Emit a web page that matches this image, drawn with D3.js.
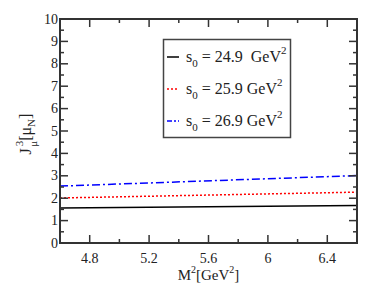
<!DOCTYPE html>
<html>
<head>
<meta charset="utf-8">
<script src="https://cdn.jsdelivr.net/npm/d3@7"></script>
<style>
  body { margin: 0; background: #fff; }
</style>
</head>
<body>
<div id="chart"></div>
<script>
// data
var xs = [4.6, 6.6];
var s0Labels = ["24.9", "25.9", "26.9"];
var curveBlack = [1.56, 1.67];
var curveRed = [2.01, 2.27];
var curveBlue = [2.54, 3.01];
var xTicks = [4.8, 5.2, 5.6, 6, 6.4];
var yTicks = [0, 1, 2, 3, 4, 5, 6, 7, 8, 9, 10];

var width = 374, height = 289;
var margin = {left: 60, right: 17, top: 19, bottom: 46};
var serif = "'Liberation Serif', 'Times New Roman', 'DejaVu Serif', serif";

var x = d3.scaleLinear().domain([4.6, 6.6]).range([margin.left, width - margin.right]);
var y = d3.scaleLinear().domain([0, 10]).range([height - margin.bottom, margin.top]);

var svg = d3.select("#chart").append("svg")
    .attr("width", width)
    .attr("height", height)
    .attr("font-family", serif);

var series = [
    {vals: curveBlack, color: "#000", dash: null, lab: s0Labels[0], gap: "\u00a0\u00a0"},
    {vals: curveRed, color: "#f00", dash: "2,2", lab: s0Labels[1], gap: "\u00a0"},
    {vals: curveBlue, color: "#00f", dash: "8,3,2,3", lab: s0Labels[2], gap: "\u00a0"}
];

var line = d3.line()
    .x(function(d, i) { return x(xs[i]); })
    .y(function(d) { return y(d); });

series.forEach(function(s) {
    svg.append("path")
        .attr("d", line(s.vals))
        .attr("fill", "none")
        .attr("stroke", s.color)
        .attr("stroke-width", 1.5)
        .attr("stroke-dasharray", s.dash);
});

// ticks, inward on all four sides
var minorX = d3.range(4.6, 6.61, 0.2);
var minorY = d3.range(0, 10.01, 0.5);
var gt = svg.append("g").attr("stroke", "#333").attr("stroke-width", 1.5);

minorX.forEach(function(v) {
    var major = xTicks.some(function(t) { return Math.abs(t - v) < 1e-6; });
    var len = major ? 8 : 4;
    gt.append("line").attr("x1", x(v)).attr("x2", x(v)).attr("y1", y(0)).attr("y2", y(0) - len);
    gt.append("line").attr("x1", x(v)).attr("x2", x(v)).attr("y1", y(10)).attr("y2", y(10) + len);
});
minorY.forEach(function(v) {
    var major = Math.abs(v - Math.round(v)) < 1e-6;
    var len = major ? 8 : 4;
    gt.append("line").attr("y1", y(v)).attr("y2", y(v)).attr("x1", x(4.6)).attr("x2", x(4.6) + len);
    gt.append("line").attr("y1", y(v)).attr("y2", y(v)).attr("x1", x(6.6)).attr("x2", x(6.6) - len);
});

svg.append("rect")
    .attr("x", x(4.6)).attr("y", y(10))
    .attr("width", x(6.6) - x(4.6)).attr("height", y(0) - y(10))
    .attr("fill", "none").attr("stroke", "#333").attr("stroke-width", 2);

svg.selectAll(".xl").data(xTicks).enter().append("text")
    .attr("x", function(d) { return x(d); })
    .attr("y", y(0) + 20)
    .attr("text-anchor", "middle")
    .attr("font-size", 14)
    .attr("fill", "#222")
    .text(function(d) { return d; });

svg.selectAll(".yl").data(yTicks).enter().append("text")
    .attr("x", x(4.6) - 2)
    .attr("y", function(d) { return y(d) + 4.5; })
    .attr("text-anchor", "end")
    .attr("font-size", 14)
    .attr("fill", "#222")
    .text(function(d) { return d; });

// axis titles
var xt = svg.append("text")
    .attr("x", (x(4.6) + x(6.6)) / 2).attr("y", 280)
    .attr("text-anchor", "middle")
    .attr("font-size", 15)
    .attr("fill", "#222");
xt.append("tspan").text("M");
xt.append("tspan").attr("dy", -7).attr("font-size", 10).text("2");
xt.append("tspan").attr("dy", 7).text("[GeV");
xt.append("tspan").attr("dy", -7).attr("font-size", 10).text("2");
xt.append("tspan").attr("dy", 7).text("]");

var yt = svg.append("text")
    .attr("transform", "translate(31,134) rotate(-90)")
    .attr("text-anchor", "middle")
    .attr("font-size", 16)
    .attr("fill", "#222");
yt.append("tspan").text("J");
yt.append("tspan").attr("dx", 2).attr("dy", -8).attr("font-size", 11).text("3");
yt.append("tspan").attr("dx", -6).attr("dy", 14).attr("font-size", 11).text("\u03bc");
yt.append("tspan").attr("dy", -6).text("[\u03bc");
yt.append("tspan").attr("dy", 4).attr("font-size", 11).text("N");
yt.append("tspan").attr("dy", -4).text("]");

// legend
var lg = svg.append("g");
lg.append("rect")
    .attr("x", 163.5).attr("y", 39.5).attr("width", 127).attr("height", 98)
    .attr("fill", "#fff").attr("stroke", "#444").attr("stroke-width", 1.5);

series.forEach(function(s, i) {
    var yy = 57 + i * 32;
    lg.append("line")
        .attr("x1", 167).attr("x2", 179).attr("y1", yy).attr("y2", yy)
        .attr("stroke", s.color).attr("stroke-width", 1.5)
        .attr("stroke-dasharray", s.dash ? (i === 1 ? "2,2" : "5,2,2,2") : null);
    var t = lg.append("text").attr("x", 186).attr("y", yy + 5).attr("font-size", 16).attr("fill", "#222");
    t.append("tspan").text("s");
    t.append("tspan").attr("dy", 5).attr("font-size", 11).text("0");
    t.append("tspan").attr("dy", -5).text(" = " + s.lab + s.gap + "GeV");
    t.append("tspan").attr("dy", -8).attr("font-size", 11).text("2");
});
</script>
</body>
</html>
